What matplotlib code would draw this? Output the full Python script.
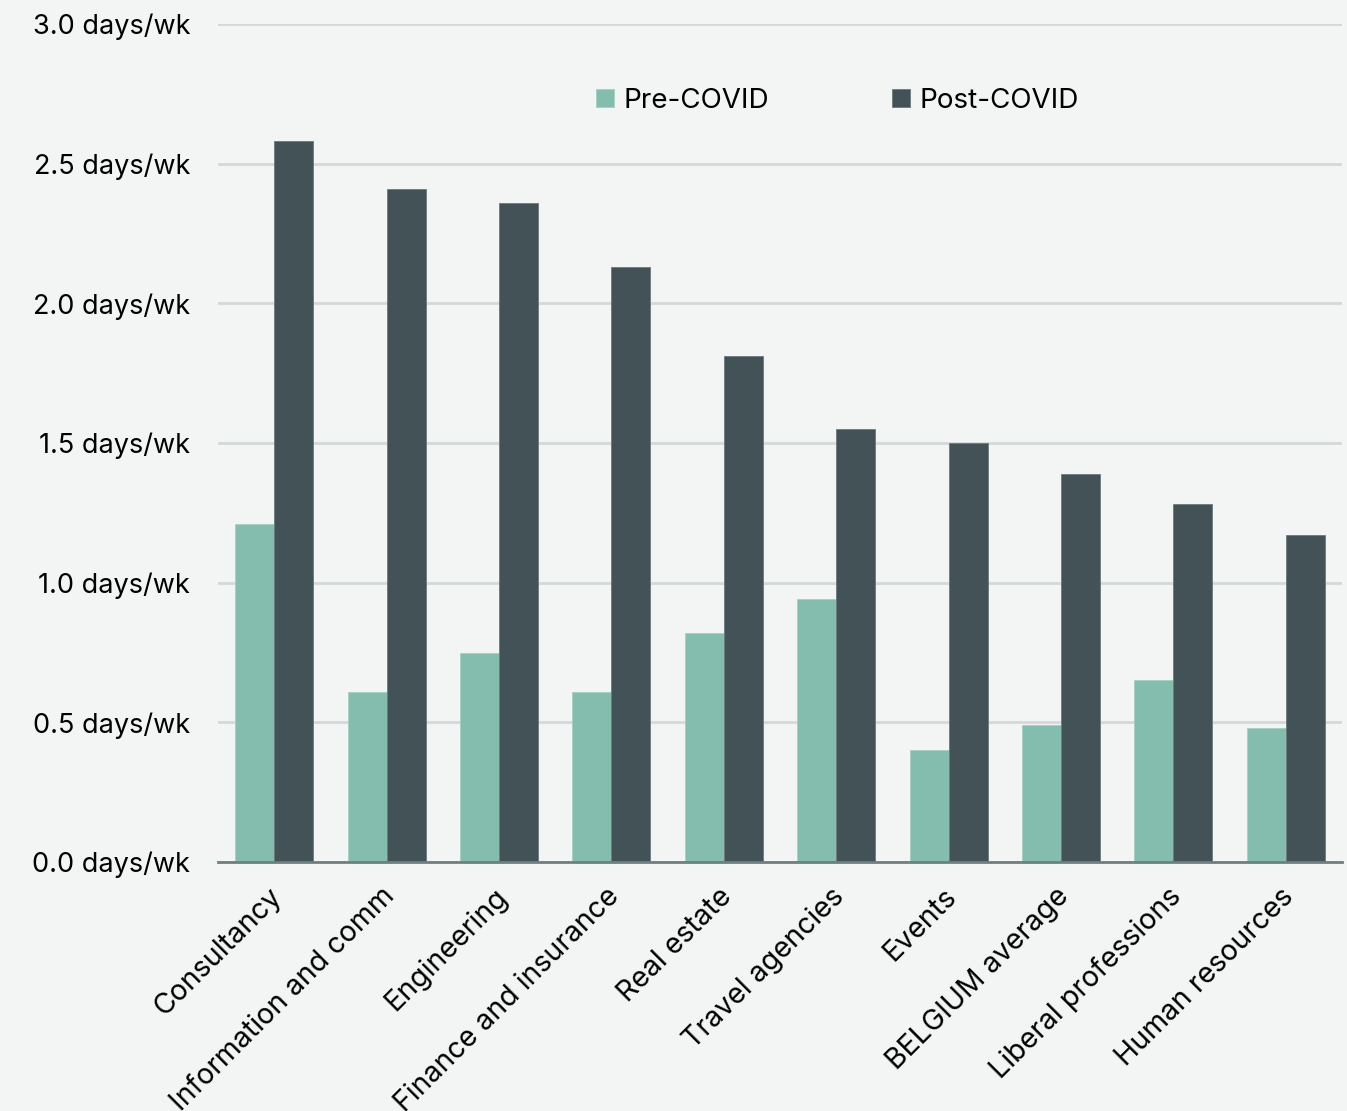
import numpy as np
import matplotlib
matplotlib.use("Agg")
import matplotlib.pyplot as plt

# sectors (x axis) and average days/week worked from home
sectors = ["Consultancy", "Information and comm", "Engineering",
           "Finance and insurance", "Real estate", "Travel agencies",
           "Events", "BELGIUM average", "Liberal professions",
           "Human resources"]
pre_covid = [1.21, 0.61, 0.75, 0.61, 0.82, 0.94, 0.40, 0.49, 0.65, 0.48]
post_covid = [2.58, 2.41, 2.36, 2.13, 1.81, 1.55, 1.50, 1.39, 1.28, 1.17]
yticks = [0.0, 0.5, 1.0, 1.5, 2.0, 2.5, 3.0]

bg = "#f3f5f4"
c_pre = "#84bcae"
c_post = "#435256"

plt.rcParams["font.family"] = ["Inter", "DejaVu Sans"]

fig = plt.figure(figsize=(13.47, 11.11), dpi=100, facecolor=bg)
ax = fig.add_axes([0.1618, 0.2241, 0.8345, 0.7543])
ax.set_facecolor(bg)

x = np.arange(len(sectors))
w = 0.347
ax.bar(x - w / 2, pre_covid, w, color=c_pre, edgecolor="#a6cfc4", linewidth=0.6,
       label="Pre-COVID", zorder=3)
ax.bar(x + w / 2, post_covid, w, color=c_post, edgecolor="#6a7a7c", linewidth=0.6,
       label="Post-COVID", zorder=3)

ax.set_xlim(-0.5, len(sectors) - 0.5)
ax.set_ylim(0, 3.0)
ax.set_yticks(yticks)
ax.set_yticklabels([f"{v:.1f} days/wk" for v in yticks], fontsize=19.5)
ax.grid(axis="y", color="#d3d9da", linewidth=2, zorder=0)
ax.tick_params(axis="y", length=0, pad=20)
ax.tick_params(axis="x", length=0, pad=15)
ax.set_xticks(x - 0.05)
ax.set_xticklabels(sectors, rotation=45, ha="right", rotation_mode="anchor",
                   fontsize=20.5)

for s in ["top", "right", "left"]:
    ax.spines[s].set_visible(False)
ax.spines["bottom"].set_color("#6e7f80")
ax.spines["bottom"].set_linewidth(2)
ax.spines["bottom"].set_zorder(4)

ax.legend(loc="upper center", bbox_to_anchor=(0.551, 0.954), ncol=2, frameon=False,
          fontsize=20, handlelength=0.65, handleheight=0.65, handletextpad=0.35,
          columnspacing=4.4)

fig.savefig("out.png", dpi=100, facecolor=bg)
